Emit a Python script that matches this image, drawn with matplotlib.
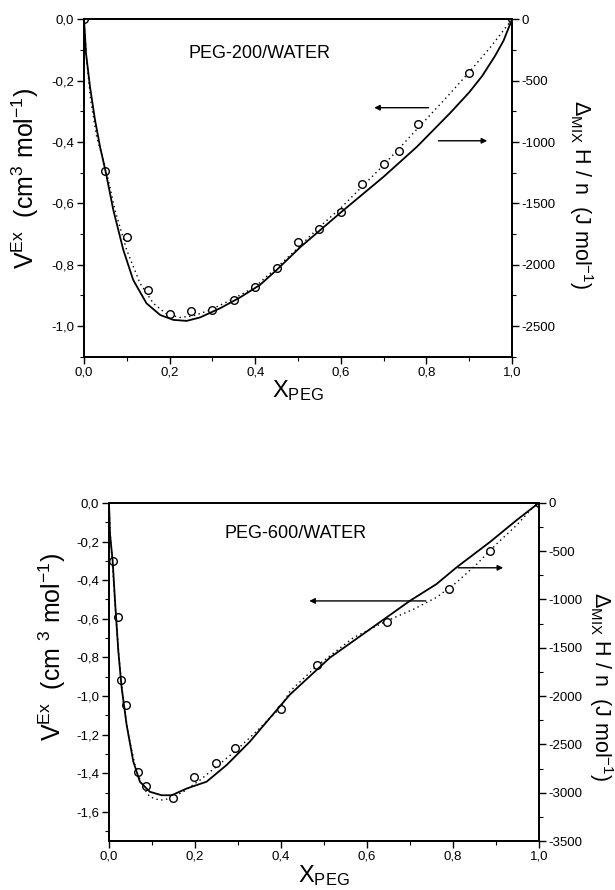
import matplotlib
matplotlib.use('Agg')
import matplotlib.pyplot as plt
from matplotlib.ticker import MultipleLocator, FuncFormatter

plt.rcParams['font.family'] = ['Liberation Sans', 'DejaVu Sans']
plt.rcParams['mathtext.default'] = 'regular'

# ---------------- PEG-200 / WATER ----------------
x200_pts = [0, 0.05, 0.10, 0.15, 0.20, 0.25, 0.30, 0.35, 0.40, 0.45, 0.50, 0.55,
            0.60, 0.65, 0.70, 0.735, 0.78, 0.90, 1.0]
v200_pts = [0, -0.496, -0.709, -0.883, -0.962, -0.952, -0.949, -0.915, -0.872, -0.812,
            -0.727, -0.682, -0.628, -0.537, -0.471, -0.430, -0.342, -0.176, 0]

x200_fit = [0, 0.0062, 0.0156, 0.0296, 0.0514, 0.0724, 0.0997, 0.131, 0.162, 0.193, 0.224,
            0.255, 0.294, 0.349, 0.398, 0.45, 0.5, 0.55, 0.6, 0.65, 0.7, 0.75, 0.8, 0.85,
            0.9, 0.95, 1.0]
v200_fit = [0, -0.133, -0.263, -0.383, -0.491, -0.622, -0.752, -0.861, -0.926, -0.961, -0.972,
            -0.967, -0.948, -0.911, -0.874, -0.81, -0.745, -0.677, -0.615, -0.545, -0.475, -0.4,
            -0.325, -0.25, -0.172, -0.09, 0]

x200_h = [0, 0.0047, 0.014, 0.0257, 0.0374, 0.0514, 0.0685, 0.0919, 0.115, 0.146, 0.178, 0.209,
          0.24, 0.271, 0.318, 0.364, 0.411, 0.45, 0.505, 0.602, 0.70, 0.778, 0.855, 0.9, 0.93,
          0.96, 0.98, 1.0]
h200 = [0, -278, -550, -820, -1038, -1255, -1555, -1880, -2125, -2315, -2410, -2450, -2458,
        -2430, -2355, -2268, -2165, -2043, -1858, -1568, -1283, -1038, -765, -595, -463,
        -300, -175, 0]

# ---------------- PEG-600 / WATER ----------------
x600_pts = [0.0085, 0.020, 0.0287, 0.0395, 0.068, 0.087, 0.148, 0.198, 0.248, 0.293, 0.399,
            0.483, 0.646, 0.791, 0.886, 1.0]
v600_pts = [-0.302, -0.593, -0.918, -1.046, -1.395, -1.466, -1.527, -1.421, -1.348, -1.268,
            -1.065, -0.840, -0.616, -0.446, -0.250, 0]

x600_fit = [0, 0.0039, 0.0101, 0.0163, 0.024, 0.0333, 0.045, 0.0605, 0.076, 0.095, 0.1186,
            0.142, 0.173, 0.212, 0.25, 0.297, 0.343, 0.398, 0.421, 0.483, 0.569, 0.646, 0.709,
            0.762, 0.809, 0.856, 0.902, 0.948, 0.987, 1.0]
v600_fit = [0, -0.194, -0.385, -0.593, -0.819, -1.027, -1.2, -1.356, -1.46, -1.521, -1.539,
            -1.53, -1.495, -1.434, -1.365, -1.278, -1.183, -1.062, -0.975, -0.845, -0.697,
            -0.611, -0.55, -0.489, -0.411, -0.316, -0.212, -0.116, -0.021, 0]

x600_h = [0, 0.0023, 0.0085, 0.014, 0.0217, 0.0295, 0.041, 0.0566, 0.072, 0.095, 0.1225, 0.146,
          0.181, 0.227, 0.274, 0.328, 0.374, 0.421, 0.514, 0.607, 0.70, 0.762, 0.809, 0.886,
          0.948, 1.0]
h600 = [0, -320, -596, -1012, -1534, -1914, -2296, -2678, -2886, -2990, -3026, -3026, -2956,
        -2886, -2712, -2470, -2228, -1984, -1602, -1308, -1014, -840, -666, -406, -180, 0]

titles = ['PEG-200/WATER', 'PEG-600/WATER']
vlims = [(-1.1, 0.0), (-1.75, 0.0)]
hlims = [(-2750, 0), (-3500, 0)]
ylabels_left = ['V$^{Ex}$  (cm$^{3}$ mol$^{-1}$)', 'V$^{Ex}$  (cm $^{3}$ mol$^{-1}$)']
ylabel_right = 'Δ$_{MIX}$ H / n  (J mol$^{-1}$)'
xlabel = 'X$_{PEG}$'

fig = plt.figure(figsize=(6.15, 8.9), dpi=100)
rects = [[0.1366, 0.5992, 0.696, 0.3791], [0.1772, 0.0550, 0.699, 0.3800]]

comma = FuncFormatter(lambda v, p: ('%.1f' % v).replace('.', ',').replace('-0,0', '0,0'))
intfmt = FuncFormatter(lambda v, p: '%d' % int(round(v)))

datasets = [
    (x200_pts, v200_pts, x200_fit, v200_fit, x200_h, h200),
    (x600_pts, v600_pts, x600_fit, v600_fit, x600_h, h600),
]
title_pos = [(0.41, 0.90), (0.433, 0.91)]
arrows = [
    [((0.678, 0.738), (0.805, 0.738)), ((0.942, 0.640), (0.828, 0.640))],
    [((0.466, 0.71), (0.737, 0.71)), ((0.917, 0.808), (0.812, 0.808))],
]
left_label_xy = [(-0.136, 0.53), (-0.133, 0.574)]
right_label_xy = [(1.161, 0.48), (1.144, 0.456)]

for i, (xp, vp, xf, vf, xh, hh) in enumerate(datasets):
    ax = fig.add_axes(rects[i])
    ax2 = ax.twinx()
    ax.plot(xf, vf, color='k', lw=1.0, linestyle=(0, (1, 2.5)))
    ax.plot(xp, vp, linestyle='none', marker='o', markersize=5.5, markerfacecolor='white',
            markeredgecolor='k', markeredgewidth=1.0, zorder=5)
    ax2.plot(xh, hh, color='k', lw=1.3)
    ax.set_xlim(0, 1)
    ax.set_ylim(*vlims[i])
    ax2.set_ylim(*hlims[i])
    ax.xaxis.set_major_locator(MultipleLocator(0.2))
    ax.xaxis.set_minor_locator(MultipleLocator(0.1))
    ax.yaxis.set_major_locator(MultipleLocator(0.2))
    ax.yaxis.set_minor_locator(MultipleLocator(0.1))
    ax2.yaxis.set_major_locator(MultipleLocator(500))
    ax2.yaxis.set_minor_locator(MultipleLocator(250))
    ax.xaxis.set_major_formatter(comma)
    ax.yaxis.set_major_formatter(comma)
    ax2.yaxis.set_major_formatter(intfmt)
    for a in (ax, ax2):
        a.tick_params(which='major', direction='out', length=5, width=1.0, labelsize=9.5, pad=2)
        a.tick_params(which='minor', direction='out', length=3, width=0.8)
        for s in a.spines.values():
            s.set_linewidth(1.3)
    ax.set_ylabel(ylabels_left[i], fontsize=18, ha='center', va='center')
    ax.yaxis.set_label_coords(*left_label_xy[i])
    ax2.set_ylabel(ylabel_right, fontsize=15.5, rotation=270, ha='center', va='center')
    ax2.yaxis.set_label_coords(*right_label_xy[i])
    ax.set_xlabel(xlabel, fontsize=17, labelpad=0)
    ax.text(title_pos[i][0], title_pos[i][1], titles[i], transform=ax.transAxes,
            ha='center', va='center', fontsize=13)
    for head, tail in arrows[i]:
        ax.annotate('', xy=head, xytext=tail, xycoords='axes fraction',
                    textcoords='axes fraction',
                    arrowprops=dict(arrowstyle='-|>', color='k', lw=1.0, mutation_scale=8,
                                    shrinkA=0, shrinkB=0))

fig.savefig('out.png', dpi=100, facecolor='white')
